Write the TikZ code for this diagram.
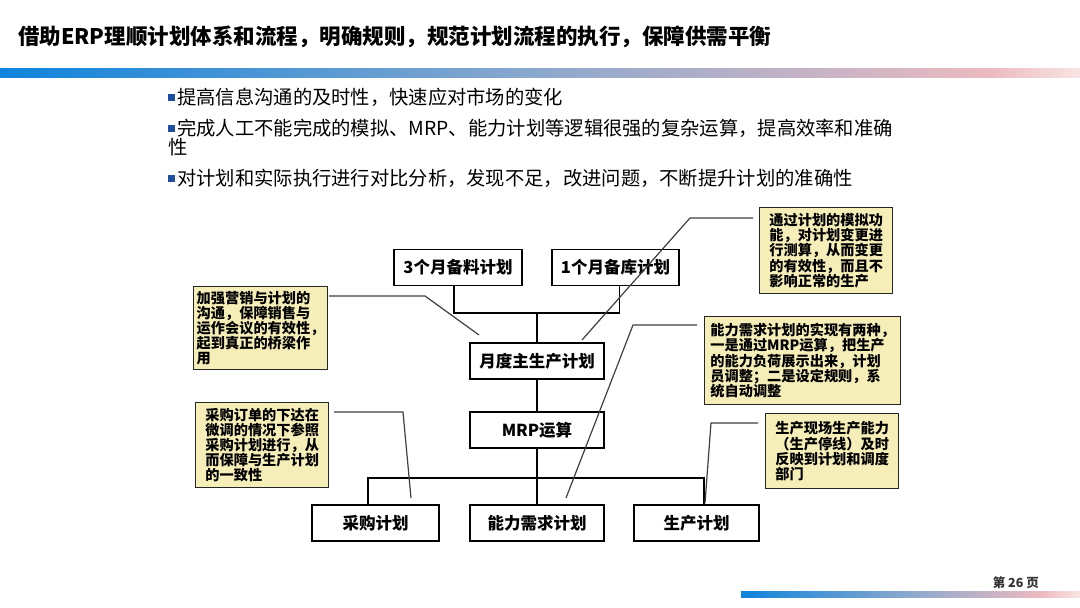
\documentclass[tikz,border=0pt]{standalone}
\usepackage{fontspec}
\setmainfont{Noto Sans CJK SC}
\definecolor{notefill}{RGB}{246,238,184}
\definecolor{gA}{RGB}{14,132,220}
\definecolor{gB}{RGB}{140,168,205}
\definecolor{gC}{RGB}{236,186,192}
\definecolor{gD}{RGB}{248,228,228}
\definecolor{bulc}{RGB}{32,78,158}
\begin{document}
\begin{tikzpicture}[x=1pt,y=-1pt,
 flow/.style={draw=black, line width=1.6pt, fill=white, minimum height=36pt, inner sep=0pt, font=\fontsize{16.5}{18}\selectfont\bfseries},
 note/.style={draw=black!85, line width=1.4pt, fill=notefill, align=left, inner xsep=3pt, inner ysep=3pt, font=\fontsize{14.2}{15.2}\selectfont\bfseries, anchor=north west},
 link/.style={line width=1.5pt, black},
 lead/.style={line width=1.2pt, black!75},
 bul/.style={anchor=west, inner sep=0pt, font=\fontsize{19.3}{21}\selectfont},
 bsq/.style={fill=bulc}
]
\useasboundingbox (0,0) rectangle (1080,608);
\fill[white] (0,0) rectangle (1080,608);

% title
\node[anchor=west, inner sep=0pt, font=\fontsize{21.5}{24}\selectfont\bfseries] (title) at (18,37) {借助ERP理顺计划体系和流程，明确规则，规范计划流程的执行，保障供需平衡};
% top gradient bar
\shade[left color=gA, right color=gB] (0,68) rectangle (540,77);
\shade[left color=gB, right color=gC] (540,68) rectangle (990,77);
\shade[left color=gC, right color=gD] (990,68) rectangle (1080,77);

% bullets
\fill[bsq] (168,94) rectangle (175,101);
\node[bul] (b1) at (177,97) {提高信息沟通的及时性，快速应对市场的变化};
\fill[bsq] (168,125) rectangle (175,132);
\node[bul] (b2) at (177,128) {完成人工不能完成的模拟、MRP、能力计划等逻辑很强的复杂运算，提高效率和准确};
\node[bul] (b2b) at (168,147) {性};
\fill[bsq] (168,175) rectangle (175,182);
\node[bul] (b3) at (177,178) {对计划和实际执行进行对比分析，发现不足，改进问题，不断提升计划的准确性};

% flow boxes
\node[flow, minimum width=128pt] (a3) at (458,267.5) {3个月备料计划};
\node[flow, minimum width=127pt] (a1) at (615.5,267.5) {1个月备库计划};
\node[flow, minimum width=134pt] (mps) at (537,361) {月度主生产计划};
\node[flow, minimum width=134pt] (mrp) at (537,430) {MRP运算};
\node[flow, minimum width=127pt] (pur) at (375.5,523) {采购计划};
\node[flow, minimum width=134pt] (cap) at (537,523) {能力需求计划};
\node[flow, minimum width=125pt] (prod) at (696.5,523) {生产计划};

% connectors
\coordinate (j1) at (537,313);
\draw[link] ([xshift=-4pt]a3.south) |- (j1) -| ([xshift=4pt]a1.south);
\draw[link] (j1) -- (mps.north);
\draw[link] (mps.south) -- (mrp.north);
\draw[link] (mrp.south) -- (cap.north);
\coordinate (j2) at (537,478);
\draw[link] ([xshift=-7.5pt]pur.north) |- (j2) -| ([xshift=7.5pt]prod.north);

% notes
\node[note, minimum width=129pt, minimum height=83pt] (n1) at (193,286) {加强营销与计划的\\沟通，保障销售与\\运作会议的有效性，\\起到真正的桥梁作\\用};
\node[note, minimum width=133pt, minimum height=86pt] (n2) at (759,207) {通过计划的模拟功\\能，对计划变更进\\行测算，从而变更\\的有效性，而且不\\影响正常的生产};
\node[note, minimum width=196pt, minimum height=88pt] (n3) at (704,316) {能力需求计划的实现有两种，\\一是通过MRP运算，把生产\\的能力负荷展示出来，计划\\员调整；二是设定规则，系\\统自动调整};
\node[note, minimum width=133pt, minimum height=85pt] (n4) at (195,402) {采购订单的下达在\\微调的情况下参照\\采购计划进行，从\\而保障与生产计划\\的一致性};
\node[note, minimum width=133pt, minimum height=75pt] (n5) at (765,413) {生产现场生产能力\\（生产停线）及时\\反映到计划和调度\\部门};

% leaders
\coordinate (l1s) at (329,296);
\coordinate (l1m) at (425,296);
\coordinate (l1e) at (479,335);
\draw[lead] (l1s) -- (l1m) -- (l1e);
\coordinate (l2s) at (753,218);
\coordinate (l2m) at (690,218);
\coordinate (l2e) at (582,340);
\draw[lead] (l2s) -- (l2m) -- (l2e);
\coordinate (l3s) at (697,325);
\coordinate (l3m) at (633,325);
\coordinate (l3e) at (566,498);
\draw[lead] (l3s) -- (l3m) -- (l3e);
\coordinate (l4s) at (334,412);
\coordinate (l4m) at (403,412);
\coordinate (l4e) at (411,498);
\draw[lead] (l4s) -- (l4m) -- (l4e);
\coordinate (l5s) at (758,423);
\coordinate (l5m) at (711,423);
\coordinate (l5e) at (705,503);
\draw[lead] (l5s) -- (l5m) -- (l5e);

% footer
\node[anchor=east, inner sep=0pt, text=black!80, font=\fontsize{12.5}{14}\selectfont\bfseries] (pg) at (1039,583) {第 26 页};
\shade[left color=gA, right color=gB] (741,591) rectangle (910,597);
\shade[left color=gB, right color=gC] (910,591) rectangle (1040,597);
\shade[left color=gC, right color=gD] (1040,591) rectangle (1080,597);
\end{tikzpicture}
\end{document}
